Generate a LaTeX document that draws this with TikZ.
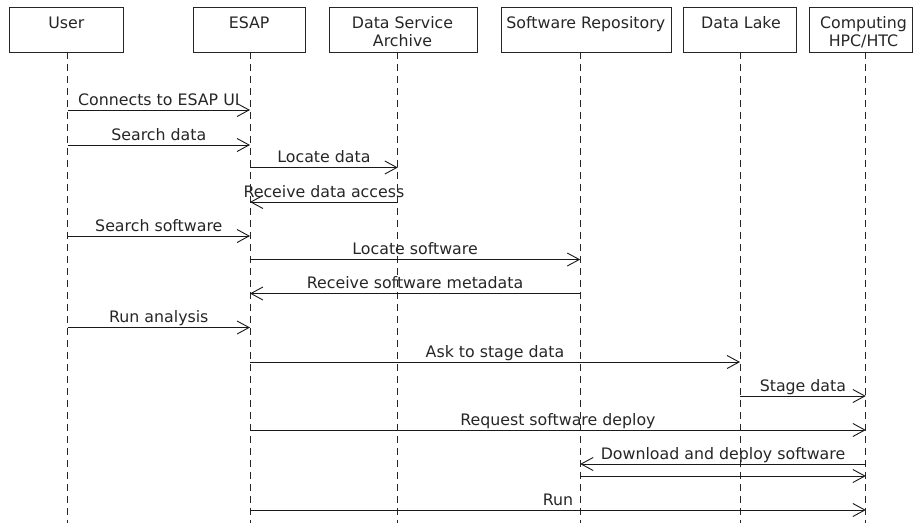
\documentclass[tikz,border=0pt]{standalone}
\usepackage{fontspec}
\setmainfont{DejaVu Sans}
\usetikzlibrary{arrows.meta}
\tikzset{
  actorbox/.style={draw=black!85, line width=0.9pt, anchor=north west, inner sep=0pt},
  actortext/.style={anchor=base, inner sep=0pt, text=black!85},
  lifeline/.style={draw=black!85, line width=0.9pt, dash pattern=on 7pt off 5pt},
  msg/.style={draw=black!90, line width=0.9pt, -{Straight Barb[length=12pt,width=13pt,line width=0.9pt]}},
  msglabel/.style={midway, anchor=base, yshift=5pt, inner sep=0pt, text=black!85}
}
\newcommand{\actorbox}[6]{% name, left, right, text x, line1, line2
  \node[actorbox, minimum width={(#3-#2)*1pt}, minimum height=44.5pt] (#1) at (#2,7) {};
  \node[actortext] (#1t1) at (#4,28.3) {#5};
  \node[actortext] (#1t2) at (#4,46.6) {#6};
}
\newcommand{\msgarrow}[4]{% from, to, y, label
  \draw[msg] (#1T |- 0,#3) -- node[msglabel] {#4} (#2T |- 0,#3);
}
\begin{document}
\begin{tikzpicture}[x=1pt,y=-1pt]
\fontsize{15.8}{18.5}\selectfont
\useasboundingbox (0,0) rectangle (915,523);
% actors
\actorbox{user}{9.3}{123}{66.4}{User}{}
\actorbox{esap}{192.7}{305}{249.2}{ESAP}{}
\actorbox{dsa}{329.3}{476.5}{402.5}{Data Service}{Archive}
\actorbox{sr}{500.7}{670.7}{585.8}{Software Repository}{}
\actorbox{dl}{683}{796}{741}{Data Lake}{}
\actorbox{comp}{808.5}{912}{863.5}{Computing}{HPC/HTC}
% lifelines
\coordinate (userT) at (67.6,51.5);  \coordinate (userB) at (67.6,523);
\coordinate (esapT) at (250,51.5);   \coordinate (esapB) at (250,523);
\coordinate (dsaT) at (397.8,51.5);  \coordinate (dsaB) at (397.8,523);
\coordinate (srT) at (580.2,51.5);   \coordinate (srB) at (580.2,523);
\coordinate (dlT) at (740,51.5);     \coordinate (dlB) at (740,523);
\coordinate (compT) at (865.8,51.5); \coordinate (compB) at (865.8,523);
\foreach \l in {user,esap,dsa,sr,dl,comp}{
  \draw[lifeline] (\l T) -- (\l B);
}
% messages
\msgarrow{user}{esap}{110}{Connects to ESAP UI}
\msgarrow{user}{esap}{145}{Search data}
\msgarrow{esap}{dsa}{167.5}{Locate data}
\msgarrow{dsa}{esap}{202}{Receive data access}
\msgarrow{user}{esap}{236}{Search software}
\msgarrow{esap}{sr}{259.5}{Locate software}
\msgarrow{sr}{esap}{293.5}{Receive software metadata}
\msgarrow{user}{esap}{327.5}{Run analysis}
\msgarrow{esap}{dl}{362}{Ask to stage data}
\msgarrow{dl}{comp}{396}{Stage data}
\msgarrow{esap}{comp}{430}{Request software deploy}
\msgarrow{comp}{sr}{464}{Download and deploy software}
\draw[msg] (srT |- 0,476) -- (compT |- 0,476);
\msgarrow{esap}{comp}{510}{Run}
\end{tikzpicture}
\end{document}
